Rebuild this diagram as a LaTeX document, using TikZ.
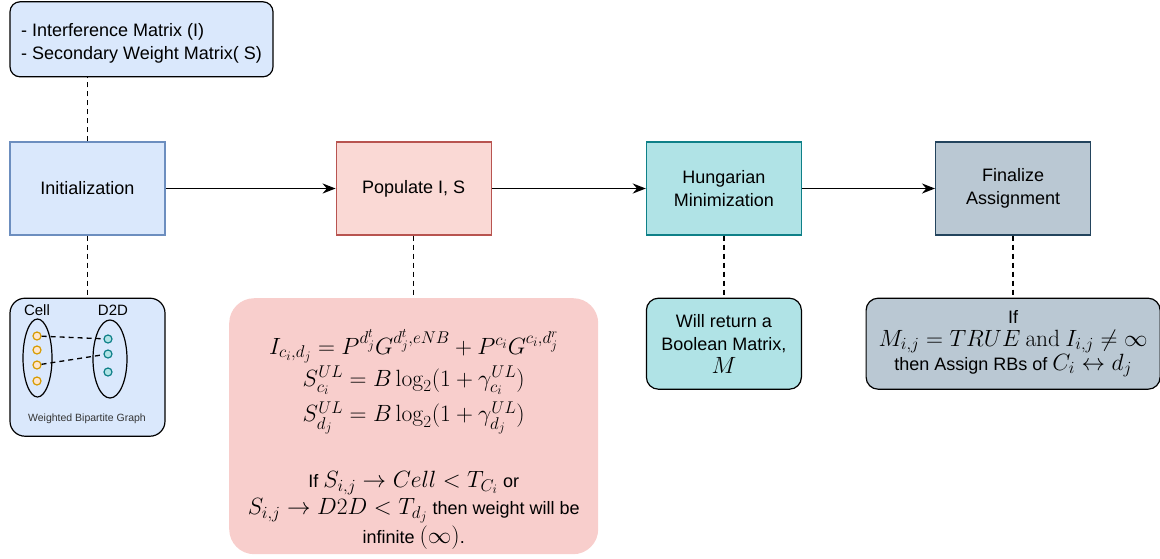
\RequirePackage{fix-cm}
\documentclass[tikz,border=0pt]{standalone}
\usepackage{amsmath}
\usepackage[no-math]{fontspec}
\setmainfont{Liberation Sans}
\usetikzlibrary{shapes, positioning, arrows.meta}
\DeclareMathSizes{18}{23.5}{17}{13}
\definecolor{paleblue}{HTML}{DAE8FC}
\definecolor{blueline}{HTML}{6C8EBF}
\definecolor{palered}{HTML}{FAD9D5}
\definecolor{rulered}{HTML}{F8CECC}
\definecolor{redline}{HTML}{B85450}
\definecolor{paleteal}{HTML}{B0E3E6}
\definecolor{tealline}{HTML}{0E8088}
\definecolor{palegray}{HTML}{BAC8D3}
\definecolor{grayline}{HTML}{23445D}
\definecolor{palegold}{HTML}{FFE6CC}
\definecolor{goldline}{HTML}{D79B00}

\begin{document}
\begin{tikzpicture} [
      x=1pt, y=-1pt,
      font=\fontsize{18}{23}\selectfont,
      node distance=62pt and 170pt,
      >={Stealth[length=13pt, width=10pt]},
      stage/.style={rectangle, line width=1.2pt, minimum width=155pt, minimum height=93pt, align=center},
      infobox/.style={rectangle, rounded corners=12pt, draw=black, line width=1.2pt, align=center},
      member/.style={circle, line width=1.2pt, inner sep=0pt, minimum size=8pt},
      group/.style={ellipse, draw=black, line width=1.2pt, inner sep=0pt},
      flow/.style={->, line width=1.8pt},
      tie/.style={line width=1.3pt, dash pattern=on 5pt off 4pt}
  ]
  \useasboundingbox (0,0) rectangle (1160,558);

  \node[stage, draw=blueline, fill=paleblue] (init) at (87.5,188.5) {Initialization};
  \node[stage, draw=redline, fill=palered, right=170pt of init] (populate) {Populate I, S};
  \node[stage, draw=tealline, fill=paleteal, right=154pt of populate] (hungarian) {Hungarian\\Minimization};
  \node[stage, draw=grayline, fill=palegray, right=133pt of hungarian] (finalize) {Finalize\\Assignment};

  \node[infobox, fill=paleblue, rounded corners=10pt, minimum width=263pt, minimum height=75pt, align=left,
        above=64pt of init.north west, anchor=south west] (matrices)
        {\rule{0pt}{22pt}- Interference Matrix (I)\\- Secondary Weight Matrix( S)};

  \node[infobox, fill=paleblue, rounded corners=15pt, minimum width=155pt, minimum height=138pt, below=of init] (graph) {};
  \node[infobox, draw=none, fill=rulered, rounded corners=25pt, minimum width=369pt, minimum height=256pt, below=of populate] (rules) {};
  \node[inner sep=0pt, align=center, below=32pt of rules.north] (rulestext)
        {$I_{c_i,d_j} = P^{d_j^t} G^{d_j^t,eNB} + P^{c_i} G^{c_i,d_j^r}$\\[2pt]
         $S_{c_i}^{UL} = B\log_2(1+\gamma_{c_i}^{UL})$\\[6pt]
         $S_{d_j}^{UL} = B\log_2(1+\gamma_{d_j}^{UL})$\\[36pt]
         If $S_{i,j} \rightarrow Cell < T_{C_i}$ or\\[4pt]
         $S_{i,j} \rightarrow D2D < T_{d_j}$ then weight will be\\[1pt]
         infinite $(\infty)$.};
  \node[infobox, fill=paleteal, minimum width=155pt, minimum height=91pt, below=of hungarian] (boolean)
        {Will return a\\Boolean Matrix,\\$M$};
  \node[infobox, fill=palegray, minimum width=294pt, minimum height=91pt, below=of finalize] (assign)
        {If\\$M_{i,j} = TRUE \mathrm{\ and\ } I_{i,j} \neq \infty$\\then Assign RBs of $C_i \leftrightarrow d_j$};

  % bipartite graph
  \node[font=\fontsize{15}{18}\selectfont] (celllabel) at (37,310) {Cell};
  \node[font=\fontsize{15}{18}\selectfont] (d2dlabel) at (113,310) {D2D};
  \node[group, minimum width=29pt, minimum height=78pt] (cellset) at (37.5,358) {};
  \node[group, minimum width=34pt, minimum height=78pt] (d2dset) at (110,359) {};
  \foreach \y [count=\i] in {336,350,365,381}
    \node[member, draw=goldline, fill=palegold] (c\i) at (37,\y) {};
  \foreach \y [count=\i] in {339,354,372}
    \node[member, draw=tealline, fill=paleteal] (d\i) at (108,\y) {};
  \draw[tie] (c1) -- (d1);
  \draw[tie] (c3) -- (d2);
  \node[font=\fontsize{10.5}{12}\selectfont, text=black!80] (caption) at (87,419) {Weighted Bipartite Graph};

  \draw[flow] (init) -- (populate);
  \draw[flow] (populate) -- (hungarian);
  \draw[flow] (hungarian) -- (finalize);

  \draw[tie] (init.north) -- (init.north |- matrices.south);
  \draw[tie] (init.south) -- (graph.north);
  \draw[tie] (populate.south) -- (rules.north);
  \draw[tie] (hungarian.south) -- (boolean.north);
  \draw[tie] (finalize.south) -- (assign.north);
\end{tikzpicture}
\end{document}
